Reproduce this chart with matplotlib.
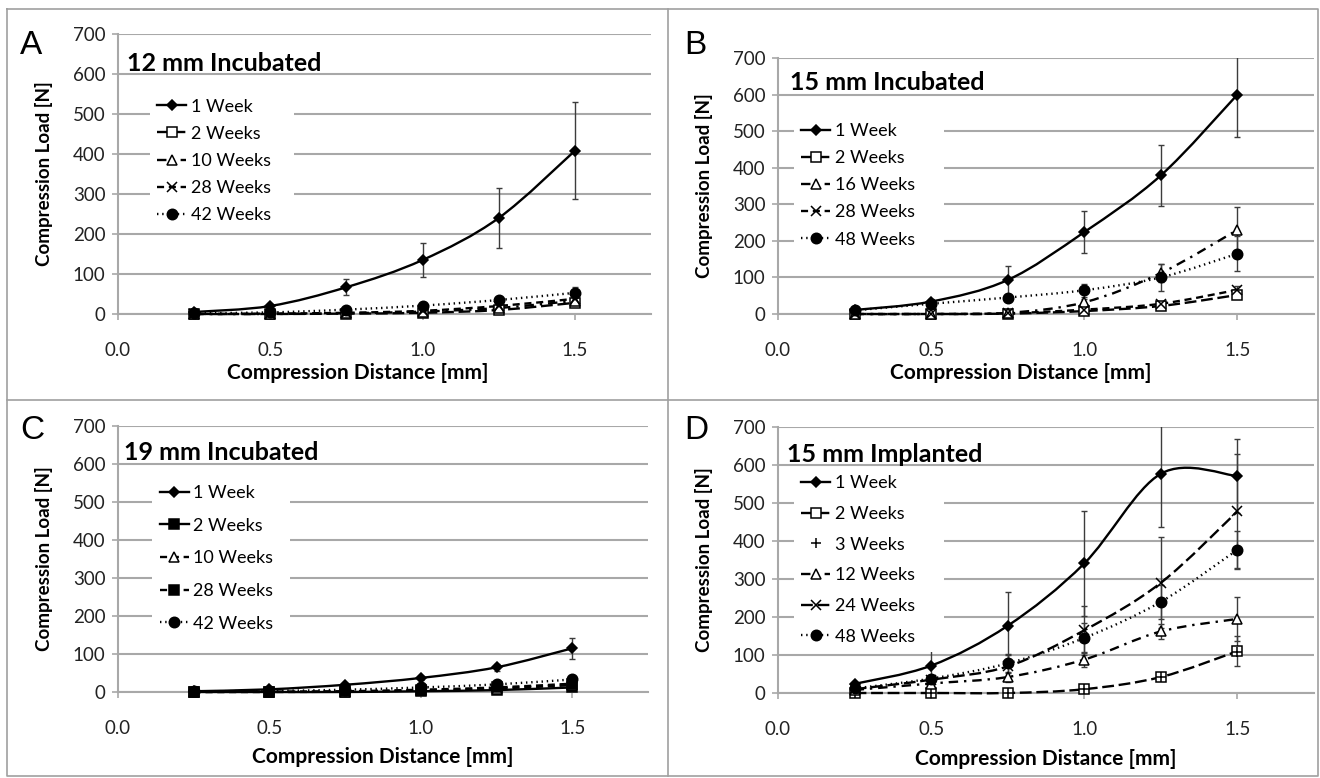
import numpy as np
import matplotlib
matplotlib.use("Agg")
import matplotlib.pyplot as plt
from matplotlib.path import Path
from matplotlib.patches import PathPatch
from matplotlib.lines import Line2D

plt.rcParams['font.family'] = ['Lato', 'DejaVu Sans']

# compression distance [mm], same for every series
x_mm = [0.25, 0.5, 0.75, 1.0, 1.25, 1.5]
x_ticks = [0.0, 0.5, 1.0, 1.5]
x_ticklabels = ['0.0', '0.5', '1.0', '1.5']

# A: 12 mm incubated
a_labels = ['1 Week', '2 Weeks', '10 Weeks', '28 Weeks', '42 Weeks']
a_1wk = [5, 20, 67, 135, 240, 408]
a_1wk_err = [2, 5, 20, 43, 74, 121]
a_2wk = [0, 0, 1, 3, 10, 28]
a_10wk = [0, 0, 2, 6, 15, 33]
a_28wk = [0, 1, 3, 8, 20, 38]
a_42wk = [2, 4, 11, 21, 35, 53]
a_42wk_err = [1, 2, 4, 5, 6, 15]

# B: 15 mm incubated
b_labels = ['1 Week', '2 Weeks', '16 Weeks', '28 Weeks', '48 Weeks']
b_1wk = [11, 34, 93, 224, 379, 600]
b_1wk_err = [3, 6, 37, 57, 84, 115]
b_2wk = [0, 0, 1, 8, 22, 52]
b_16wk = [0, 0, 3, 32, 112, 230]
b_16wk_err = [0, 0, 2, 10, 25, 62]
b_28wk = [0, 0, 2, 12, 28, 66]
b_28wk_err = [0, 0, 1, 4, 6, 10]
b_48wk = [10, 28, 45, 65, 100, 165]
b_48wk_err = [2, 4, 8, 18, 38, 48]

# C: 19 mm incubated
c_labels = ['1 Week', '2 Weeks', '10 Weeks', '28 Weeks', '42 Weeks']
c_1wk = [2, 7, 19, 37, 65, 115]
c_1wk_err = [1, 2, 4, 6, 10, 27]
c_2wk = [0, 0, 0, 2, 5, 12]
c_10wk = [0, 0, 1, 4, 9, 18]
c_28wk = [0, 1, 2, 6, 12, 22]
c_42wk = [2, 3, 6, 12, 20, 33]
c_42wk_err = [1, 1, 2, 3, 4, 8]

# D: 15 mm implanted
d_labels = ['1 Week', '2 Weeks', '3 Weeks', '12 Weeks', '24 Weeks', '48 Weeks']
d_1wk = [24, 72, 177, 341, 577, 571]
d_1wk_err = [5, 40, 90, 138, 140, 97]
d_2wk = [0, 0, 0, 10, 42, 110]
d_2wk_err = [0, 0, 0, 5, 8, 40]
d_3wk = [1, 1, 1, 11, 43, 108]
d_12wk = [8, 25, 42, 88, 162, 195]
d_12wk_err = [3, 8, 12, 20, 20, 58]
d_24wk = [10, 35, 70, 165, 290, 478]
d_24wk_err = [3, 10, 30, 65, 120, 150]
d_48wk = [12, 38, 78, 145, 240, 377]
d_48wk_err = [3, 10, 25, 40, 45, 50]

LW = 1.7
STYLES = {
    'solid_diamond': dict(ls='-', marker='D', ms=5, mfc='black'),
    'long_square': dict(ls=(0, (5, 2)), marker='s', ms=6.5, mfc='white'),
    'dashdot_tri': dict(ls=(0, (4, 2.5, 1, 2.5)), marker='^', ms=7.5, mfc='white'),
    'dash_x': dict(ls=(0, (3, 2)), marker='x', ms=6.5, mfc='black'),
    'dot_circle': dict(ls=(0, (0.6, 1.6)), marker='o', ms=7.5, mfc='black'),
    'solid_fsquare': dict(ls='-', marker='s', ms=6.5, mfc='black'),
    'dash_tri': dict(ls=(0, (3, 2)), marker='^', ms=7.5, mfc='white'),
    'dash_fsquare': dict(ls=(0, (3, 2)), marker='s', ms=6.5, mfc='black'),
    'plus_only': dict(ls='none', marker='+', ms=7.5, mfc='black'),
    'long_x': dict(ls=(0, (5, 2)), marker='x', ms=6.5, mfc='black'),
}


def smooth_path(x, y):
    """Excel style smoothed line: cubic bezier through the points"""
    pts = np.column_stack([x, y]).astype(float)
    n = len(pts)
    verts = [pts[0]]
    codes = [Path.MOVETO]
    for i in range(n - 1):
        p0 = pts[i - 1] if i > 0 else pts[i]
        p1, p2 = pts[i], pts[i + 1]
        p3 = pts[i + 2] if i + 2 < n else pts[i + 1]
        verts += [p1 + (p2 - p0) / 6, p2 - (p3 - p1) / 6, p2]
        codes += [Path.CURVE4] * 3
    return Path(verts, codes)


def draw_series(ax, y, err, style, label):
    st = STYLES[style]
    if st['ls'] != 'none':
        ax.add_patch(PathPatch(smooth_path(x_mm, y), fill=False, ec='black', lw=LW,
                               ls=st['ls'], capstyle='butt', clip_on=False, zorder=3))
    if err is not None:
        ax.errorbar(x_mm, y, yerr=err, fmt='none', ecolor='#3c3c3c', elinewidth=1.0,
                    capsize=2.5, capthick=1.0, zorder=2)
    ax.plot(x_mm, y, ls='none', marker=st['marker'], ms=st['ms'], mfc=st['mfc'],
            mec='black', mew=1.1, clip_on=False, zorder=4)
    return Line2D([], [], color='black', lw=LW, ls=st['ls'], marker=st['marker'],
                  ms=st['ms'], mfc=st['mfc'], mec='black', mew=1.1, label=label)


def setup_axes(ax, title, title_xy, xlabel_xy):
    ax.set_xlim(0, 1.75)
    ax.set_ylim(0, 700)
    ax.set_xticks(x_ticks)
    ax.set_xticklabels(x_ticklabels)
    ax.set_yticks(range(0, 701, 100))
    ax.grid(axis='y', color='#a8a8a8', lw=1.5)
    ax.set_axisbelow(True)
    for s in ['top', 'right']:
        ax.spines[s].set_visible(False)
    for s in ['left', 'bottom']:
        ax.spines[s].set_color('#a8a8a8')
        ax.spines[s].set_linewidth(1.5)
    ax.tick_params(axis='both', direction='out', length=4, color='#a8a8a8',
                   width=1.2, labelsize=13.5, labelcolor='#222222')
    ax.tick_params(axis='x', pad=16)
    ax.tick_params(axis='y', pad=5)
    ax.set_ylabel('Compression Load [N]', fontsize=13.5, fontweight='bold')
    ax.yaxis.set_label_coords(-0.122, 0.5)
    ax.set_xlabel('Compression Distance [mm]', fontsize=15, fontweight='bold')
    ax.xaxis.set_label_coords(*xlabel_xy)
    ax.text(title_xy[0], title_xy[1], title, transform=ax.transAxes, fontsize=18,
            fontweight='bold', va='center', ha='left')


def add_legend(ax, handles, anchor, spacing):
    leg = ax.legend(handles=handles, loc='upper left', bbox_to_anchor=anchor,
                    mode='expand', fontsize=13, frameon=True, facecolor='white',
                    edgecolor='none', framealpha=1, handlelength=1.6,
                    handletextpad=0.25, labelspacing=spacing, borderpad=0.4,
                    borderaxespad=0)
    leg.set_zorder(5)


fig = plt.figure(figsize=(13.2, 7.78), dpi=100)
W, H = 1320, 778


def axes_px(left, right, top, bottom):
    return fig.add_axes([left / W, 1 - bottom / H, (right - left) / W, (bottom - top) / H])


# A
ax = axes_px(118, 651, 34, 314)
setup_axes(ax, '12 mm Incubated', (0.016, 0.895), (0.45, -0.175))
h = [draw_series(ax, a_1wk, a_1wk_err, 'solid_diamond', a_labels[0]),
     draw_series(ax, a_2wk, None, 'long_square', a_labels[1]),
     draw_series(ax, a_10wk, None, 'dashdot_tri', a_labels[2]),
     draw_series(ax, a_28wk, None, 'dash_x', a_labels[3]),
     draw_series(ax, a_42wk, a_42wk_err, 'dot_circle', a_labels[4])]
add_legend(ax, h, (0.06, 0.795, 0.27, 0.0), 0.62)

# B
ax = axes_px(778, 1314, 58, 314)
setup_axes(ax, '15 mm Incubated', (0.022, 0.905), (0.453, -0.19))
h = [draw_series(ax, b_1wk, b_1wk_err, 'solid_diamond', b_labels[0]),
     draw_series(ax, b_2wk, None, 'long_square', b_labels[1]),
     draw_series(ax, b_16wk, b_16wk_err, 'dashdot_tri', b_labels[2]),
     draw_series(ax, b_28wk, b_28wk_err, 'dash_x', b_labels[3]),
     draw_series(ax, b_48wk, b_48wk_err, 'dot_circle', b_labels[4])]
add_legend(ax, h, (0.03, 0.775, 0.28, 0.0), 0.62)

# C
ax = axes_px(118, 648, 426, 692)
setup_axes(ax, '19 mm Incubated', (0.012, 0.9), (0.50, -0.207))
h = [draw_series(ax, c_1wk, c_1wk_err, 'solid_diamond', c_labels[0]),
     draw_series(ax, c_2wk, None, 'solid_fsquare', c_labels[1]),
     draw_series(ax, c_10wk, None, 'dash_tri', c_labels[2]),
     draw_series(ax, c_28wk, None, 'dash_fsquare', c_labels[3]),
     draw_series(ax, c_42wk, c_42wk_err, 'dot_circle', c_labels[4])]
add_legend(ax, h, (0.065, 0.805, 0.26, 0.0), 0.92)

# D
ax = axes_px(778, 1314, 427, 693)
setup_axes(ax, '15 mm Implanted', (0.016, 0.895), (0.50, -0.21))
h = [draw_series(ax, d_1wk, d_1wk_err, 'solid_diamond', d_labels[0]),
     draw_series(ax, d_2wk, d_2wk_err, 'long_square', d_labels[1]),
     draw_series(ax, d_3wk, None, 'plus_only', d_labels[2]),
     draw_series(ax, d_12wk, d_12wk_err, 'dashdot_tri', d_labels[3]),
     draw_series(ax, d_24wk, d_24wk_err, 'long_x', d_labels[4]),
     draw_series(ax, d_48wk, d_48wk_err, 'dot_circle', d_labels[5])]
add_legend(ax, h, (0.03, 0.845, 0.28, 0.0), 0.81)

# panel letters
for letter, (px, py) in zip('ABCD', [(20, 30), (684, 30), (20, 415), (684, 415)]):
    fig.text(px / W, 1 - py / H, letter, fontsize=24, va='top', ha='left',
             family=['Liberation Sans', 'DejaVu Sans'])

# panel frame lines
frame_kw = dict(color='#a0a0a0', lw=1.2, transform=fig.transFigure)
fig.add_artist(Line2D([7 / W, 1318 / W, 1318 / W, 7 / W, 7 / W],
                      [1 - 9 / H, 1 - 9 / H, 1 - 776 / H, 1 - 776 / H, 1 - 9 / H], **frame_kw))
fig.add_artist(Line2D([667.5 / W, 667.5 / W], [1 - 9 / H, 1 - 776 / H], **frame_kw))
fig.add_artist(Line2D([7 / W, 1318 / W], [1 - 400 / H, 1 - 400 / H], **frame_kw))

fig.savefig('out.png', dpi=100, facecolor='white')
plt.close(fig)
